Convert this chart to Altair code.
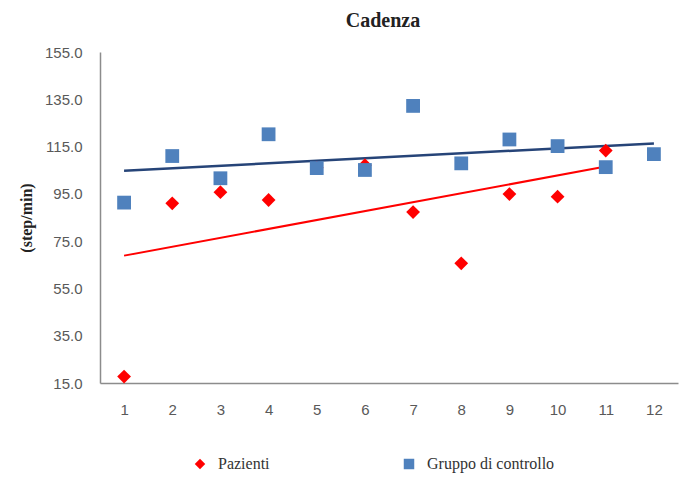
import altair as alt
import pandas as pd

x_pazienti = [1, 2, 3, 4, 5, 6, 7, 8, 9, 10, 11]
pazienti = [17.7, 91.0, 95.7, 92.4, 106.0, 107.1, 87.3, 65.6, 94.9, 93.8, 113.3]
x_controllo = [1, 2, 3, 4, 5, 6, 7, 8, 9, 10, 11, 12]
controllo = [91.3, 111.0, 101.6, 120.2, 105.9, 105.1, 132.2, 107.9, 118.0, 115.2, 106.3, 111.8]
x_ticks = [1, 2, 3, 4, 5, 6, 7, 8, 9, 10, 11, 12]
y_ticks = [15, 35, 55, 75, 95, 115, 135, 155]
series = ["Pazienti", "Gruppo di controllo"]

df = pd.concat([
    pd.DataFrame({"x": x_pazienti, "y": pazienti, "gruppo": series[0], "ord": 0}),
    pd.DataFrame({"x": x_controllo, "y": controllo, "gruppo": series[1], "ord": 1}),
], ignore_index=True)

xenc = alt.X("x:Q", scale=alt.Scale(domain=[0.5, 12.5], nice=False, zero=False),
             axis=alt.Axis(values=x_ticks, title=None, grid=False, ticks=False, tickSize=0,
                           domainColor="#8c8c8c", domainWidth=1.5, labelPadding=19,
                           labelFont="Liberation Sans", labelFontSize=15, labelColor="#595959"))
yenc = alt.Y("y:Q", scale=alt.Scale(domain=[15, 155], nice=False, zero=False),
             axis=alt.Axis(values=y_ticks, format=".1f", title="(step/min)", grid=False,
                           ticks=False, tickSize=0, domainColor="#8c8c8c", domainWidth=1.5,
                           labelPadding=18, labelFont="Liberation Sans", labelFontSize=15,
                           labelColor="#595959", titleFont="Liberation Serif", titleFontSize=16,
                           titleFontWeight="bold", titleColor="#222222", titlePadding=10))

base = alt.Chart(df)

line_p = base.transform_filter(alt.datum.gruppo == series[0]).transform_regression(
    "x", "y").mark_line(color="#ff0000", strokeWidth=2).encode(x=xenc, y=yenc)
line_c = base.transform_filter(alt.datum.gruppo == series[1]).transform_regression(
    "x", "y").mark_line(color="#264478", strokeWidth=2.5).encode(x=xenc, y=yenc)

legend = alt.Legend(title=None, orient="none", direction="horizontal", legendX=92, legendY=404,
                    labelFont="Liberation Serif", labelFontSize=16, labelColor="#333333",
                    symbolSize=110, columnPadding=131, labelOffset=10)

points = base.mark_point(filled=True, opacity=1, size=190).encode(
    x=xenc, y=yenc,
    color=alt.Color("gruppo:N", scale=alt.Scale(domain=series, range=["#ff0000", "#4f81bd"]), legend=legend),
    shape=alt.Shape("gruppo:N", scale=alt.Scale(domain=series, range=["diamond", "square"]), legend=legend),
    order=alt.Order("ord:Q"),
)

chart = alt.layer(line_p, line_c, points).properties(
    width=578, height=331,
    title=alt.TitleParams("Cadenza", font="Liberation Serif", fontSize=20, fontWeight="bold",
                          color="#222222", anchor="middle", offset=14, dx=-6),
    padding={"left": 92, "top": 44, "right": 12, "bottom": 90},
    autosize=alt.AutoSizeParams(type="none"),
).configure_view(stroke=None)

chart.save("out.html", embed_options={"renderer": "svg", "actions": False})
